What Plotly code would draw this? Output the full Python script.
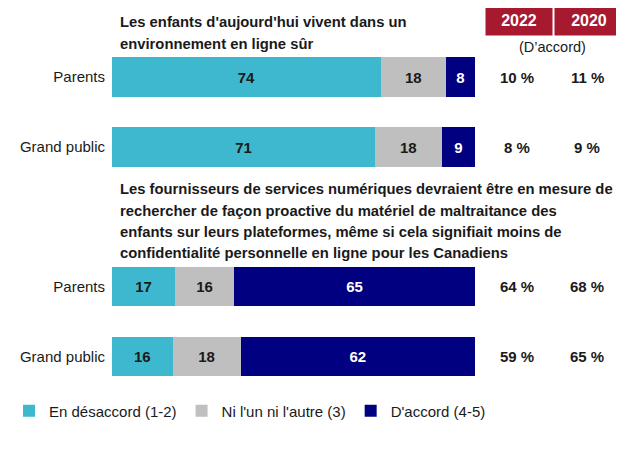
import plotly.graph_objects as go
from plotly.subplots import make_subplots

groups = ["Parents", "Grand public"]
q1_disagree = [74, 71]
q1_neutral = [18, 18]
q1_agree = [8, 9]
q2_disagree = [17, 16]
q2_neutral = [16, 18]
q2_agree = [65, 62]
q1_2022 = ["10 %", "8 %"]
q1_2020 = ["11 %", "9 %"]
q2_2022 = ["64 %", "59 %"]
q2_2020 = ["68 %", "65 %"]
series_names = ["En désaccord (1-2)", "Ni l'un ni l'autre (3)", "D'accord (4-5)"]
title1_lines = ["Les enfants d'aujourd'hui vivent dans un", "environnement en ligne sûr"]
title2_lines = ["Les fournisseurs de services numériques devraient être en mesure de",
                "rechercher de façon proactive du matériel de maltraitance des",
                "enfants sur leurs plateformes, même si cela signifiait moins de",
                "confidentialité personnelle en ligne pour les Canadiens"]
years = ["2022", "2020"]

colors = ["#3EB8CF", "#BFBFBF", "#000080"]
text_colors = ["#1a1a1a", "#1a1a1a", "white"]
FONT = "Liberation Sans"
OFF = 8  # page body margin
W, H = 624 - OFF, 468 - OFF


def px(x):
    return (x - OFF) / W


def py(y):
    return 1 - (y - OFF) / H


fig = make_subplots(rows=2, cols=1)

data = [(q1_disagree, q1_neutral, q1_agree), (q2_disagree, q2_neutral, q2_agree)]
for r, block in enumerate(data, start=1):
    totals = [sum(t) for t in zip(*block)]  # bars are drawn as shares of 100 %
    for i, vals in enumerate(block):
        shares = [v / t * 100 for v, t in zip(vals, totals)]
        fig.add_trace(go.Bar(
            y=groups, x=shares, orientation="h", name=series_names[i],
            marker=dict(color=colors[i], line=dict(width=0)),
            text=[f"<b>{v}</b>" for v in vals], textposition="inside",
            insidetextanchor="middle", hoverinfo="text+y",
            textfont=dict(family=FONT, size=15, color=text_colors[i]),
            showlegend=(r == 1), legendgroup=series_names[i],
        ), row=r, col=1)

fig.update_xaxes(range=[0, 100], domain=[px(112), px(475)], visible=False, fixedrange=True,
                 automargin=False)
fig.update_yaxes(autorange="reversed", showline=False, showgrid=False, ticks="", automargin=False,
                 tickfont=dict(family=FONT, size=15, color="#1a1a1a"), ticklabelstandoff=6)
fig.layout.yaxis.domain = [py(182), py(42)]
fig.layout.yaxis2.domain = [py(392), py(251)]

dark = "#1a1a1a"
ann = []
for yref, v22, v20 in [("y", q1_2022, q1_2020), ("y2", q2_2022, q2_2020)]:
    for g, a, b in zip(groups, v22, v20):
        ann.append(dict(x=px(517), y=g, xref="paper", yref=yref, text=f"<b>{a}</b>",
                        xanchor="center", yanchor="middle",
                        showarrow=False, font=dict(family=FONT, size=15, color=dark)))
        ann.append(dict(x=px(587), y=g, xref="paper", yref=yref, text=f"<b>{b}</b>",
                        xanchor="center", yanchor="middle",
                        showarrow=False, font=dict(family=FONT, size=15, color=dark)))

for yr, cx, w in [(years[0], 519, 64), (years[1], 589, 66)]:
    ann.append(dict(x=px(cx), y=py(20.5), xref="paper", yref="paper", text=f"<b>{yr}</b>",
                    showarrow=False, bgcolor="#A6192E", width=w, height=27,
                    xanchor="center", yanchor="middle",
                    font=dict(family=FONT, size=16, color="white")))
ann.append(dict(x=px(552), y=py(47), xref="paper", yref="paper", text="(D’accord)",
                showarrow=False, xanchor="center", yanchor="middle",
                font=dict(family=FONT, size=14.5, color=dark)))

for lines, ys in [(title1_lines, [22, 43.5]), (title2_lines, [189, 210.5, 232, 253])]:
    for line, yy in zip(lines, ys):
        ann.append(dict(x=px(118), y=py(yy), xref="paper", yref="paper", text=f"<b>{line}</b>",
                        showarrow=False, xanchor="left", yanchor="middle", align="left",
                        font=dict(family=FONT, size=14.8, color=dark)))

fig.update_layout(
    width=W, height=H, barmode="stack", bargap=0.44,
    margin=dict(l=0, r=0, t=0, b=0),
    paper_bgcolor="white", plot_bgcolor="white",
    annotations=ann,
    legend=dict(orientation="h", x=px(9), y=py(411), xanchor="left", yanchor="middle",
                font=dict(family=FONT, size=15, color=dark), traceorder="normal",
                itemwidth=30, tracegroupgap=0),
    uniformtext=dict(minsize=8, mode="show"),
)
fig.write_html("out.html")
